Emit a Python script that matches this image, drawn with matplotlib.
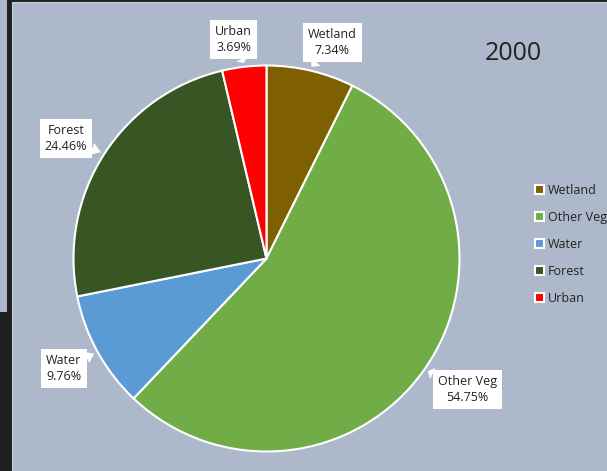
import numpy as np
import matplotlib
matplotlib.use("Agg")
import matplotlib.pyplot as plt
from matplotlib.patches import Rectangle

# land cover shares for 2000
labels = ["Wetland", "Other Veg", "Water", "Forest", "Urban"]
shares = [7.34, 54.75, 9.76, 24.46, 3.69]
colors = ["#7f6000", "#70ad47", "#5b9bd5", "#375623", "#ff0000"]

# label box centres (data units, pie radius = 1)
label_pos = [(0.34, 1.12), (1.04, -0.68), (-1.05, -0.57), (-1.04, 0.62), (-0.17, 1.135)]

bg = "#adb9ca"
W, H = 607, 471
fig = plt.figure(figsize=(W / 100, H / 100), dpi=100, facecolor="#1e1e1e")

# screenshot frame: sliver of window behind + chart area
fig.patches.append(Rectangle((0, (H - 312) / H), 7 / W, 312 / H, transform=fig.transFigure,
                             facecolor=bg, edgecolor="none", zorder=-2))
fig.patches.append(Rectangle((12 / W, 0), (W - 12) / W, (H - 2) / H, transform=fig.transFigure,
                             facecolor=bg, edgecolor="#c3ccd8", linewidth=0.8, zorder=-2))

cx, cy, r = 266.5, 258.5, 193
ax = fig.add_axes([(cx - r) / W, (H - cy - r) / H, 2 * r / W, 2 * r / H])
ax.set_facecolor("none")

wedges, _ = ax.pie(shares, colors=colors, startangle=90, counterclock=False,
                   wedgeprops=dict(edgecolor="white", linewidth=1.5))
ax.set_xlim(-1, 1)
ax.set_ylim(-1, 1)
ax.set_aspect("equal")
ax.axis("off")

for w, name, val, pos in zip(wedges, labels, shares, label_pos):
    mid = np.deg2rad((w.theta1 + w.theta2) / 2)
    tip = (1.02 * np.cos(mid), 1.02 * np.sin(mid))
    ax.annotate(f"{name}\n{val:.2f}%", xy=tip, xytext=pos, ha="center", va="center",
                fontsize=9, color="#222222", family="Open Sans", linespacing=1.3,
                annotation_clip=False,
                bbox=dict(boxstyle="square,pad=0.4", fc="white", ec="none"),
                arrowprops=dict(arrowstyle="wedge,tail_width=1.0", fc="white", ec="none",
                                shrinkA=0, shrinkB=0))

fig.text(513 / W, 1 - 53 / H, "2000", fontsize=18, color="#222222", family="Open Sans",
         ha="center", va="center")

fig.legend(wedges, labels, loc="upper left", bbox_to_anchor=(535 / W, 1 - 184 / H),
           frameon=False, handlelength=0.7, handleheight=0.7,
           handletextpad=0.35, labelspacing=1.12, borderaxespad=0, borderpad=0,
           prop={"family": "Open Sans", "size": 9}, labelcolor="#222222")

fig.savefig("out.png", dpi=100, facecolor=fig.get_facecolor())
